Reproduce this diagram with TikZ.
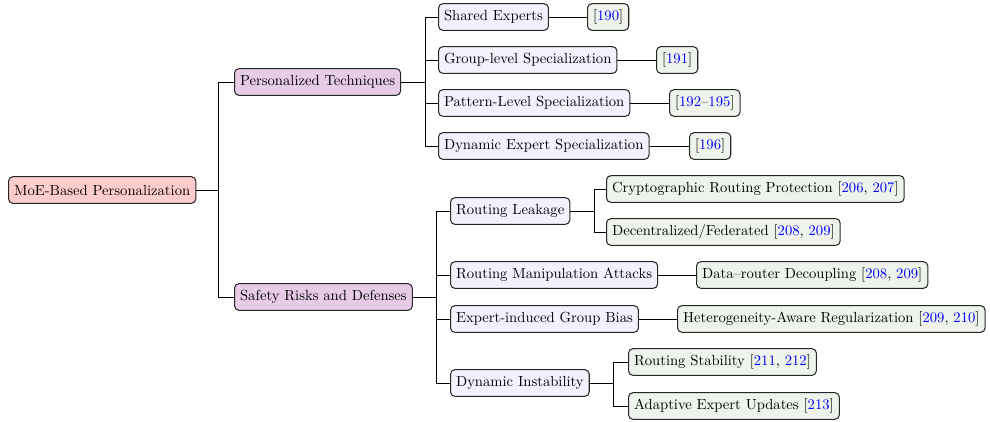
\documentclass[tikz,border=0pt]{standalone}
\usepackage{xcolor}
\usetikzlibrary{positioning}
\definecolor{rootred}{HTML}{FFCCCC}
\definecolor{catpurple}{HTML}{E6CCE6}
\definecolor{subblue}{HTML}{F2F2FF}
\definecolor{leafgreen}{HTML}{EEF3EC}
\newcommand{\cit}[1]{\textcolor{blue}{#1}}

\begin{document}
\begin{tikzpicture}[x=0.024cm, y=-0.024cm,
    box/.style={draw=black!85, rounded corners=3pt, line width=0.7pt, anchor=west,
        minimum height=0.64cm, inner xsep=3.8pt},
    rootbox/.style={box, fill=rootred},
    catbox/.style={box, fill=catpurple},
    subbox/.style={box, fill=subblue},
    leafbox/.style={box, fill=leafgreen},
    link/.style={draw=black, line width=0.6pt}]
        \useasboundingbox (0,0) rectangle (990,421);
        % root and first level
        \node[rootbox] (root) at (8,190) {MoE-Based Personalization};
        \node[catbox] (pt) at (234,82) {Personalized Techniques};
        \node[catbox] (sr) at (234,297) {Safety Risks and Defenses};
        % personalized techniques
        \node[subbox] (se) at (438,17) {Shared Experts};
        \node[subbox] (gl) at (438,60) {Group-level Specialization};
        \node[subbox] (pl) at (438,103) {Pattern-Level Specialization};
        \node[subbox] (de) at (438,146) {Dynamic Expert Specialization};
        \node[leafbox] (se-r) at (587,17) {[\cit{190}]};
        \node[leafbox] (gl-r) at (656,60) {[\cit{191}]};
        \node[leafbox] (pl-r) at (669,103) {[\cit{192}--\cit{195}]};
        \node[leafbox] (de-r) at (689,146) {[\cit{196}]};
        % safety risks and defenses
        \node[subbox] (rl) at (450,211) {Routing Leakage};
        \node[subbox] (rm) at (450,275) {Routing Manipulation Attacks};
        \node[subbox] (eg) at (450,319) {Expert-induced Group Bias};
        \node[subbox] (di) at (450,383) {Dynamic Instability};
        \node[leafbox] (rl-a) at (606,189) {Cryptographic Routing Protection [\cit{206}, \cit{207}]};
        \node[leafbox] (rl-b) at (606,232) {Decentralized/Federated [\cit{208}, \cit{209}]};
        \node[leafbox] (rm-a) at (696,275) {Data--router Decoupling [\cit{208}, \cit{209}]};
        \node[leafbox] (eg-a) at (677,319) {Heterogeneity-Aware Regularization [\cit{209}, \cit{210}]};
        \node[leafbox] (di-a) at (628,362) {Routing Stability [\cit{211}, \cit{212}]};
        \node[leafbox] (di-b) at (628,406) {Adaptive Expert Updates [\cit{213}]};
        % forks
        \coordinate (f0) at (218,0);
        \coordinate (f1) at (425,0);
        \coordinate (f2) at (436,0);
        \coordinate (f3) at (594,0);
        \coordinate (f4) at (613,0);
        \foreach \n in {pt,sr}
            \draw[link] (root.east) -- (root.east -| f0) |- (\n.west);
        \foreach \n in {se,gl,pl,de}
            \draw[link] (pt.east) -- (pt.east -| f1) |- (\n.west);
        \foreach \n in {rl,rm,eg,di}
            \draw[link] (sr.east) -- (sr.east -| f2) |- (\n.west);
        \foreach \n in {rl-a,rl-b}
            \draw[link] (rl.east) -- (rl.east -| f3) |- (\n.west);
        \foreach \n in {di-a,di-b}
            \draw[link] (di.east) -- (di.east -| f4) |- (\n.west);
        \foreach \n in {se,gl,pl,de}
            \draw[link] (\n.east) -- (\n-r.west);
        \draw[link] (rm.east) -- (rm-a.west);
        \draw[link] (eg.east) -- (eg-a.west);
    \end{tikzpicture}
\end{document}
